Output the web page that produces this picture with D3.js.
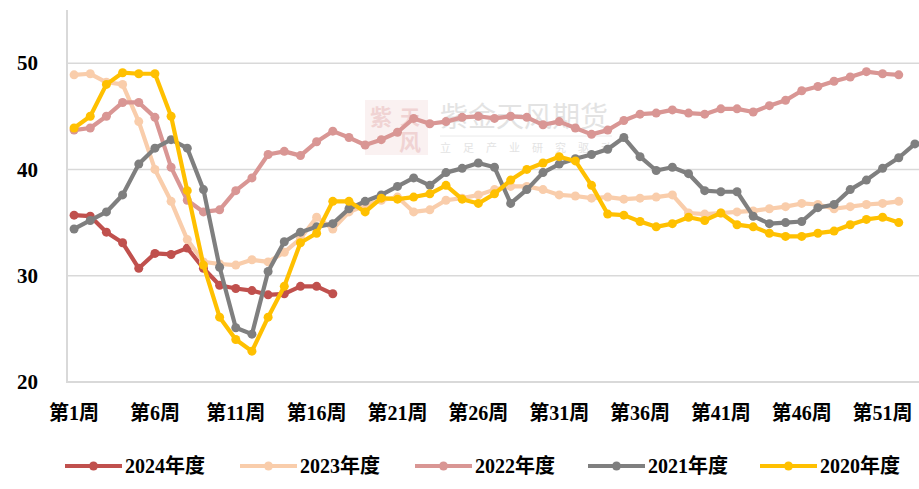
<!DOCTYPE html>
<meta charset="utf-8">
<style>
  body { margin: 0; background: #fff; }
  svg text { font-family: "Liberation Serif", "Noto Sans CJK SC", serif; font-weight: bold; }
</style>
<svg width="919" height="489"></svg>
<script src="https://d3js.org/d3.v7.min.js"></script>
<script>

var svg = d3.select("svg"),
    width = 919,
    height = 489;

// weeks on the category axis
var weeks = d3.range(1, 54),
    tickWeeks = [1, 6, 11, 16, 21, 26, 31, 36, 41, 46, 51],
    yTicks = [20, 30, 40, 50];

var seriesNames = ["2024年度", "2023年度", "2022年度", "2021年度", "2020年度"],
    seriesColors = ["#C0504D", "#F9CDAB", "#D99694", "#7F7F7F", "#FFC000"];

var v2024 = [35.7, 35.6, 34.1, 33.1, 30.7, 32.1, 32.0, 32.6, 30.7, 29.1,
             28.8, 28.6, 28.2, 28.3, 29.0, 29.0, 28.3];

var v2023 = [48.9, 49.0, 48.2, 48.0, 44.5, 40.0, 37.0, 33.4, 31.3, 31.1,
             31.0, 31.5, 31.3, 32.2, 33.5, 35.5, 34.4, 36.0, 36.6, 37.1,
             37.4, 36.0, 36.2, 37.1, 37.3, 37.6, 38.1, 38.4, 38.4, 38.1,
             37.6, 37.5, 37.3, 37.4, 37.2, 37.3, 37.4, 37.6, 35.9, 35.8,
             35.9, 36.0, 36.1, 36.3, 36.5, 36.8, 36.7, 36.3, 36.5, 36.7,
             36.8, 37.0];

var v2022 = [43.7, 43.9, 45.0, 46.3, 46.3, 44.9, 40.2, 37.1, 36.0, 36.2,
             38.0, 39.2, 41.4, 41.7, 41.3, 42.6, 43.6, 43.0, 42.3, 42.8,
             43.5, 44.8, 44.3, 44.5, 44.9, 45.0, 44.8, 45.0, 44.9, 44.2,
             44.5, 43.9, 43.3, 43.7, 44.6, 45.2, 45.3, 45.6, 45.3, 45.2,
             45.7, 45.7, 45.4, 46.0, 46.5, 47.4, 47.8, 48.3, 48.7, 49.2,
             49.0, 48.9];

var v2021 = [34.4, 35.2, 36.0, 37.6, 40.5, 42.0, 42.8, 42.0, 38.1, 30.8,
             25.1, 24.5, 30.4, 33.2, 34.1, 34.6, 34.9, 36.3, 37.0, 37.6,
             38.4, 39.2, 38.5, 39.7, 40.1, 40.6, 40.2, 36.8, 38.1, 39.7,
             40.5, 41.0, 41.4, 41.9, 43.0, 41.2, 39.9, 40.2, 39.6, 38.0,
             37.9, 37.9, 35.6, 34.9, 35.0, 35.1, 36.4, 36.7, 38.1, 39.0,
             40.1, 41.1, 42.4];

var v2020 = [43.9, 45.0, 48.0, 49.1, 49.0, 49.0, 45.0, 38.0, 31.0, 26.1,
             24.0, 22.9, 26.1, 29.0, 33.1, 34.0, 37.0, 37.0, 36.0, 37.3,
             37.2, 37.4, 37.7, 38.5, 37.2, 36.8, 37.7, 39.0, 40.0, 40.6,
             41.2, 40.8, 38.5, 35.8, 35.7, 35.1, 34.6, 34.9, 35.5, 35.2,
             35.9, 34.8, 34.6, 34.0, 33.7, 33.7, 34.0, 34.2, 34.8, 35.3,
             35.5, 35.0];

var seriesValues = [v2024, v2023, v2022, v2021, v2020];

var x = d3.scalePoint()
    .domain(weeks)
    .range([66, 923])
    .padding(0.5);

var y = d3.scaleLinear()
    .domain([20, 55])
    .range([382, 10]);

// gridlines
svg.append("g")
  .selectAll("line")
  .data(yTicks.slice(1))
  .join("line")
    .attr("x1", 67)
    .attr("x2", width)
    .attr("y1", function(d) { return y(d); })
    .attr("y2", function(d) { return y(d); })
    .attr("stroke", "#D9D9D9")
    .attr("stroke-width", 1.5);

// axis lines
svg.append("line")
    .attr("x1", 67).attr("x2", 67)
    .attr("y1", y(55)).attr("y2", y(20))
    .attr("stroke", "#D9D9D9").attr("stroke-width", 2);
svg.append("line")
    .attr("x1", 66).attr("x2", width)
    .attr("y1", y(20)).attr("y2", y(20))
    .attr("stroke", "#D9D9D9").attr("stroke-width", 2);

// y labels
svg.append("g")
  .selectAll("text")
  .data(yTicks)
  .join("text")
    .attr("x", 38)
    .attr("y", function(d) { return y(d); })
    .attr("dy", "0.35em")
    .attr("text-anchor", "end")
    .attr("font-size", 21)
    .attr("fill", "#000")
    .text(function(d) { return d; });

// x labels
svg.append("g")
  .selectAll("text")
  .data(tickWeeks)
  .join("text")
    .attr("x", function(d) { return x(d); })
    .attr("y", 413)
    .attr("dy", "0.35em")
    .attr("text-anchor", "middle")
    .attr("font-size", 20)
    .attr("fill", "#000")
    .text(function(d) { return "第" + d + "周"; });

// watermark
var wm = svg.append("g").attr("opacity", 0.5);
wm.append("rect")
    .attr("x", 365).attr("y", 100)
    .attr("width", 63).attr("height", 55)
    .attr("fill", "#F2D4D4").attr("opacity", 0.6);
wm.append("text")
    .attr("x", 381).attr("y", 125)
    .attr("text-anchor", "middle")
    .attr("font-size", 22)
    .attr("fill", "#E3A9A9")
    .text("紫");
wm.append("text")
    .attr("x", 410).attr("y", 125)
    .attr("text-anchor", "middle")
    .attr("font-size", 20)
    .attr("fill", "#E3A9A9")
    .text("天");
wm.append("text")
    .attr("x", 410).attr("y", 150)
    .attr("text-anchor", "middle")
    .attr("font-size", 22)
    .attr("fill", "#E3A9A9")
    .text("风");
wm.append("text")
    .attr("x", 440).attr("y", 127)
    .attr("font-size", 28)
    .style("font-weight", "normal")
    .style("font-family", "Noto Sans CJK SC")
    .attr("fill", "#C8C8C8")
    .text("紫金天风期货");
wm.append("line")
    .attr("x1", 440).attr("x2", 612)
    .attr("y1", 136).attr("y2", 136)
    .attr("stroke", "#D8D8D8");
wm.append("text")
    .attr("x", 440).attr("y", 152)
    .attr("font-size", 11)
    .style("font-weight", "normal")
    .style("font-family", "Noto Sans CJK SC")
    .attr("letter-spacing", 12)
    .attr("fill", "#C8C8C8")
    .text("立足产业研究驱动");

// series
var line = d3.line()
    .x(function(d, i) { return x(weeks[i]); })
    .y(function(d) { return y(d); });

seriesValues.forEach(function(values, k) {
  var g = svg.append("g");
  g.append("path")
      .attr("d", line(values))
      .attr("fill", "none")
      .attr("stroke", seriesColors[k])
      .attr("stroke-width", 4.2)
      .attr("stroke-linejoin", "round");
  g.selectAll("circle")
    .data(values)
    .join("circle")
      .attr("cx", function(d, i) { return x(weeks[i]); })
      .attr("cy", function(d) { return y(d); })
      .attr("r", 4.5)
      .attr("fill", seriesColors[k]);
});

// legend
var legendX = [65, 240, 415, 588, 760];
var legend = svg.append("g")
  .selectAll("g")
  .data(seriesNames)
  .join("g")
    .attr("transform", function(d, i) { return "translate(" + legendX[i] + ",466)"; });

legend.append("line")
    .attr("x1", 0).attr("x2", 57)
    .attr("stroke", function(d, i) { return seriesColors[i]; })
    .attr("stroke-width", 4.2);
legend.append("circle")
    .attr("cx", 28.5)
    .attr("r", 4.5)
    .attr("fill", function(d, i) { return seriesColors[i]; });
legend.append("text")
    .attr("x", 60)
    .attr("dy", "0.35em")
    .attr("font-size", 20)
    .attr("fill", "#000")
    .text(function(d) { return d; });

</script>
